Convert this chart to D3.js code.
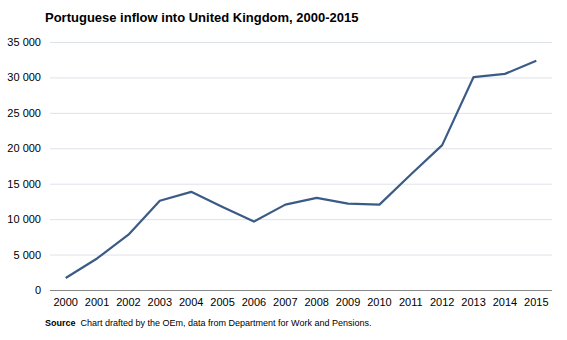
<!DOCTYPE html>
<html><head><meta charset="utf-8">
<script src="https://cdn.jsdelivr.net/npm/d3@7"></script>
<style>body{margin:0;background:#fff;} svg{display:block;font-family:"Liberation Sans",Arial,sans-serif;}</style>
</head><body><svg id="c" width="567" height="340"></svg>
<script>
const years = ["2000","2001","2002","2003","2004","2005","2006","2007","2008","2009","2010","2011","2012","2013","2014","2015"];
const inflow = [1700,4450,7800,12600,13850,11700,9650,12050,13000,12200,12050,16300,20450,30050,30500,32350];
const yTicks = [0,5000,10000,15000,20000,25000,30000,35000];
const title = "Portuguese  inflow into United  Kingdom, 2000-2015";

const svg = d3.select("#c");
const m = {l:50, r:552, t:42, b:290};
const x = d3.scaleBand().domain(years).range([m.l, m.r]);
const y = d3.scaleLinear().domain([0,35000]).range([m.b, m.t]);
const fmt = v => d3.format(",")(v).replace(/,/g, "\u00a0");

svg.append("text").attr("x",45).attr("y",22).attr("font-size",13).attr("font-weight","bold").attr("fill","#000").text(title);

const ya = svg.append("g").attr("transform",`translate(${m.l},0)`)
  .call(d3.axisLeft(y).tickValues(yTicks).tickSize(-(m.r-m.l)).tickPadding(9).tickFormat(fmt));
ya.select(".domain").remove();
ya.selectAll(".tick line").attr("stroke","#dde2ea").attr("stroke-width",1);
ya.selectAll(".tick text").attr("font-size",11).attr("fill","#000").attr("font-family","Liberation Sans, Arial, sans-serif");
ya.selectAll(".tick").filter(d=>d===0).select("line").attr("stroke","#888");

const xa = svg.append("g").attr("transform",`translate(0,${m.b})`)
  .call(d3.axisBottom(x).tickSize(0).tickPadding(8));
xa.select(".domain").remove();
xa.selectAll(".tick text").attr("font-size",11).attr("fill","#000").attr("font-family","Liberation Sans, Arial, sans-serif");

const line = d3.line().x((d,i)=>x(years[i])+x.bandwidth()/2).y(d=>y(d));
svg.append("path").datum(inflow).attr("d",line).attr("fill","none").attr("stroke","#3b5b87").attr("stroke-width",2.2).attr("stroke-linejoin","round");

const src = svg.append("text").attr("x",45).attr("y",326).attr("font-size",9).attr("fill","#000");
src.append("tspan").attr("font-weight","bold").text("Source");
src.append("tspan").attr("dx",5).text("Chart drafted by the OEm, data  from Department for Work and Pensions.");
</script></body></html>
